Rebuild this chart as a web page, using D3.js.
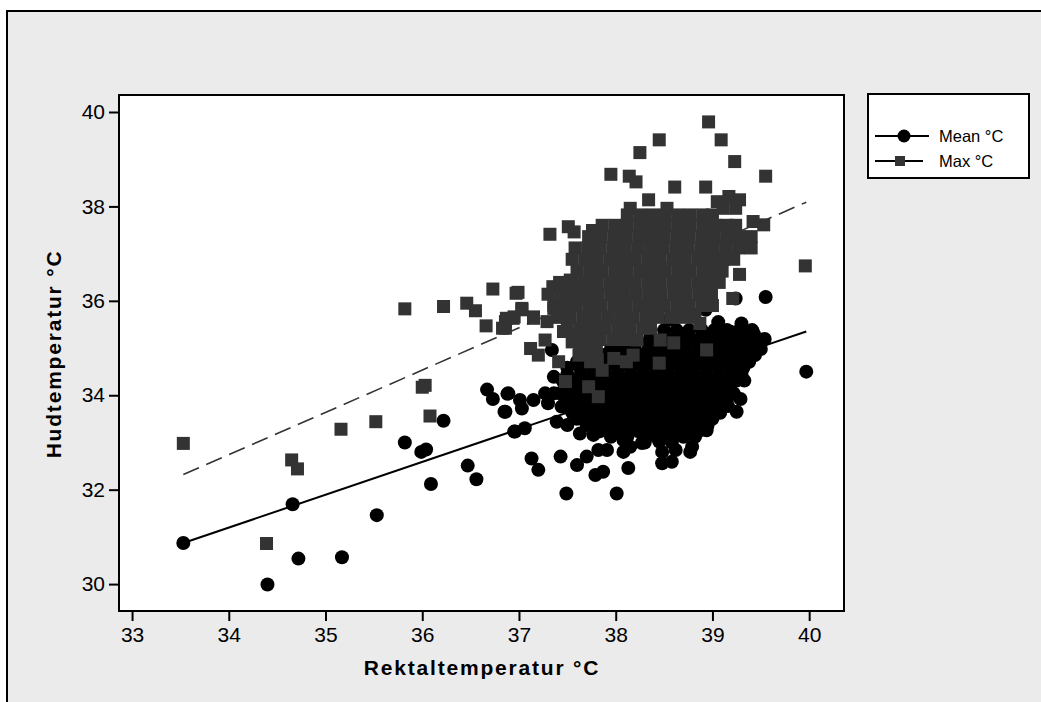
<!DOCTYPE html>
<html>
<head>
<meta charset="utf-8">
<script src="https://cdn.jsdelivr.net/npm/d3@7"></script>
<style>
  body { margin: 0; background: #fff; }
  text { font-family: 'Liberation Sans', Arial, sans-serif; }
</style>
</head>
<body>
<div id="chart"></div>
<script>
// Rektaltemperatur (x) vs Hudtemperatur (y)
const meanPoints = [
  [33.53, 30.87], [34.66, 31.69], [34.40, 29.99], [34.72, 30.54], [35.17, 30.57], [35.53, 31.46],
  [35.82, 33.00], [35.99, 32.80], [36.04, 32.85], [36.09, 32.12], [36.22, 33.46], [36.47, 32.51],
  [36.56, 32.22], [36.67, 34.12], [36.73, 33.92], [36.88, 34.03], [36.85, 33.65], [36.95, 33.23],
  [39.97, 34.50], [39.55, 36.08], [39.25, 33.65], [39.33, 34.31], [39.29, 33.92], [39.42, 35.33],
  [39.54, 35.19], [37.49, 31.92], [38.01, 31.92], [37.13, 32.66], [37.20, 32.42], [37.43, 32.70],
  [37.60, 32.52], [37.70, 32.70], [37.79, 32.31], [37.87, 32.38], [37.82, 32.84], [37.91, 32.84],
  [38.13, 32.46], [38.08, 32.80], [38.15, 32.91], [38.27, 32.99], [38.48, 32.56], [38.48, 32.80],
  [38.58, 32.59], [38.62, 32.84], [38.77, 32.80], [38.79, 32.91], [37.63, 33.19], [37.77, 33.16],
  [38.01, 33.26], [38.08, 33.05], [38.94, 33.26], [36.86, 33.65], [36.89, 34.04], [37.01, 33.90],
  [37.03, 33.72], [37.15, 33.90], [37.27, 34.04], [37.30, 33.83], [37.36, 34.04], [36.96, 33.23],
  [37.06, 33.30], [37.36, 34.39], [37.34, 34.96], [37.39, 33.44], [37.50, 33.37], [37.44, 33.76],
  [39.18, 35.35], [39.11, 36.83], [39.24, 36.05], [38.93, 35.81], [38.80, 35.70], [38.55, 35.60],
  [39.30, 35.52], [39.06, 35.55],
  [38.50, 35.38], [38.63, 35.38], [38.76, 35.38], [38.89, 35.38], [39.02, 35.38], [39.15, 35.38], [39.28, 35.38], [39.41, 35.38],
  [38.36, 35.25], [38.50, 35.25], [38.63, 35.25], [38.76, 35.25], [38.90, 35.25], [39.03, 35.25], [39.16, 35.25], [39.30, 35.25], [39.44, 35.25],
  [38.20, 35.12], [38.33, 35.12], [38.46, 35.12], [38.59, 35.12], [38.72, 35.12], [38.85, 35.12], [38.98, 35.12],
  [39.11, 35.12], [39.24, 35.12], [39.37, 35.12], [39.50, 35.12],
  [37.95, 34.98], [38.08, 34.98], [38.20, 34.98], [38.34, 34.98], [38.47, 34.98], [38.60, 34.98], [38.73, 34.98],
  [38.86, 34.98], [38.99, 34.98], [39.12, 34.98], [39.25, 34.98], [39.38, 34.98], [39.50, 34.98],
  [37.75, 34.85], [37.88, 34.85], [38.01, 34.85], [38.14, 34.85], [38.27, 34.85], [38.40, 34.85], [38.53, 34.85],
  [38.66, 34.85], [38.79, 34.85], [38.92, 34.85], [39.05, 34.85], [39.18, 34.85], [39.31, 34.85], [39.44, 34.85],
  [37.60, 34.71], [37.70, 34.71], [37.82, 34.71], [37.95, 34.71], [38.08, 34.71], [38.21, 34.71], [38.34, 34.71],
  [38.47, 34.71], [38.60, 34.71], [38.73, 34.71], [38.86, 34.71], [38.99, 34.71], [39.12, 34.71], [39.25, 34.71], [39.38, 34.71],
  [37.50, 34.58], [37.63, 34.58], [37.76, 34.58], [37.89, 34.58], [38.02, 34.58], [38.15, 34.58], [38.28, 34.58],
  [38.41, 34.58], [38.54, 34.58], [38.67, 34.58], [38.80, 34.58], [38.93, 34.58], [39.06, 34.58], [39.19, 34.58], [39.32, 34.58],
  [37.50, 34.44], [37.64, 34.44], [37.77, 34.44], [37.90, 34.44], [38.03, 34.44], [38.16, 34.44], [38.29, 34.44],
  [38.42, 34.44], [38.55, 34.44], [38.68, 34.44], [38.81, 34.44], [38.94, 34.44], [39.07, 34.44], [39.20, 34.44], [39.30, 34.44],
  [37.45, 34.31], [37.58, 34.31], [37.71, 34.31], [37.84, 34.31], [37.97, 34.31], [38.10, 34.31], [38.23, 34.31],
  [38.36, 34.31], [38.49, 34.31], [38.62, 34.31], [38.75, 34.31], [38.88, 34.31], [39.01, 34.31], [39.14, 34.31], [39.25, 34.31],
  [37.48, 34.17], [37.60, 34.17], [37.74, 34.17], [37.87, 34.17], [38.00, 34.17], [38.13, 34.17], [38.26, 34.17],
  [38.39, 34.17], [38.52, 34.17], [38.65, 34.17], [38.78, 34.17], [38.91, 34.17], [39.04, 34.17], [39.17, 34.17],
  [37.42, 34.04], [37.55, 34.04], [37.68, 34.04], [37.81, 34.04], [37.94, 34.04], [38.07, 34.04], [38.20, 34.04],
  [38.33, 34.04], [38.46, 34.04], [38.59, 34.04], [38.72, 34.04], [38.85, 34.04], [38.98, 34.04], [39.11, 34.04], [39.22, 34.04],
  [37.50, 33.90], [37.62, 33.90], [37.75, 33.90], [37.88, 33.90], [38.01, 33.90], [38.14, 33.90], [38.27, 33.90],
  [38.40, 33.90], [38.53, 33.90], [38.66, 33.90], [38.79, 33.90], [38.92, 33.90], [39.05, 33.90], [39.15, 33.90],
  [37.48, 33.77], [37.61, 33.77], [37.74, 33.77], [37.87, 33.77], [38.00, 33.77], [38.13, 33.77], [38.26, 33.77],
  [38.39, 33.77], [38.52, 33.77], [38.65, 33.77], [38.78, 33.77], [38.91, 33.77], [39.04, 33.77], [39.16, 33.77],
  [37.55, 33.63], [37.68, 33.63], [37.81, 33.63], [37.94, 33.63], [38.07, 33.63], [38.20, 33.63], [38.33, 33.63],
  [38.46, 33.63], [38.59, 33.63], [38.72, 33.63], [38.85, 33.63], [38.97, 33.63], [39.08, 33.63],
  [37.60, 33.50], [37.73, 33.50], [37.86, 33.50], [37.99, 33.50], [38.12, 33.50], [38.25, 33.50], [38.38, 33.50],
  [38.51, 33.50], [38.64, 33.50], [38.77, 33.50], [38.90, 33.50], [39.00, 33.50],
  [37.70, 33.37], [37.80, 33.37], [37.93, 33.37], [38.06, 33.37], [38.19, 33.37], [38.32, 33.37], [38.45, 33.37],
  [38.58, 33.37], [38.71, 33.37], [38.84, 33.37], [38.95, 33.37],
  [37.84, 33.24], [37.97, 33.24], [38.10, 33.24], [38.23, 33.24], [38.36, 33.24], [38.49, 33.24], [38.62, 33.24],
  [38.75, 33.24], [38.86, 33.24],
  [37.95, 33.12], [38.12, 33.12], [38.30, 33.12], [38.42, 33.12], [38.56, 33.12], [38.70, 33.12], [38.82, 33.12],
  [38.30, 33.00], [38.45, 33.02], [38.58, 33.00]
]

const maxPoints = [
  [33.53, 32.98], [34.65, 32.63], [34.71, 32.44], [34.39, 30.86], [35.16, 33.28], [35.52, 33.44],
  [35.82, 35.83], [36.00, 34.17], [36.03, 34.21], [36.08, 33.56], [36.22, 35.88], [36.46, 35.95],
  [36.55, 35.79], [36.66, 35.47], [36.73, 36.25], [36.83, 35.42], [36.86, 35.56], [36.95, 35.66],
  [36.97, 36.16], [38.96, 39.79], [38.45, 39.41], [39.09, 39.41], [38.25, 39.14], [39.23, 38.95],
  [39.55, 38.64], [37.95, 38.68], [38.14, 38.64], [38.21, 38.52], [38.61, 38.41], [38.93, 38.41],
  [38.34, 38.14], [39.05, 38.10], [39.17, 38.21], [39.28, 38.14], [39.24, 37.96], [39.11, 37.96],
  [38.15, 37.96], [38.53, 37.96], [39.42, 37.68], [39.53, 37.61], [37.32, 37.41], [37.51, 37.57],
  [37.57, 37.46], [37.76, 37.49], [39.96, 36.74], [39.28, 36.56], [36.99, 36.18], [37.03, 35.84],
  [37.15, 35.66], [37.36, 35.91], [39.21, 36.05], [37.35, 36.30], [38.94, 34.96], [38.45, 34.68],
  [38.60, 35.11], [37.82, 33.97], [37.72, 34.18], [37.48, 34.29], [37.86, 34.53], [37.81, 34.75],
  [37.74, 34.71], [37.41, 34.71], [37.12, 34.99], [37.20, 34.85], [37.27, 35.17], [36.86, 35.42],
  [36.94, 35.63], [37.03, 35.81], [37.15, 35.63], [37.36, 35.84], [38.11, 34.71], [38.18, 34.85],
  [37.98, 34.78], [38.87, 35.52], [38.92, 35.91], [38.22, 35.17], [38.46, 35.17], [37.63, 35.31],
  [37.46, 35.35], [37.55, 35.13], [37.63, 35.06], [37.62, 34.85], [37.77, 34.75], [37.53, 36.44],
  [37.65, 36.33], [36.87, 35.63], [37.29, 35.56], [37.46, 35.85], [37.60, 36.05],
  [38.12, 37.82], [38.25, 37.82], [38.38, 37.82], [38.51, 37.82], [38.64, 37.82], [38.77, 37.82], [38.90, 37.82], [39.00, 37.82],
  [37.86, 37.60], [37.99, 37.60], [38.12, 37.60], [38.25, 37.60], [38.38, 37.60], [38.51, 37.60], [38.64, 37.60],
  [38.77, 37.60], [38.90, 37.60], [39.03, 37.60], [39.15, 37.60], [39.24, 37.60],
  [37.72, 37.36], [37.85, 37.36], [37.98, 37.36], [38.11, 37.36], [38.24, 37.36], [38.37, 37.36], [38.50, 37.36],
  [38.63, 37.36], [38.76, 37.36], [38.89, 37.36], [39.02, 37.36], [39.15, 37.36], [39.28, 37.36], [39.40, 37.36],
  [37.58, 37.12], [37.71, 37.12], [37.84, 37.12], [37.97, 37.12], [38.10, 37.12], [38.23, 37.12], [38.36, 37.12],
  [38.49, 37.12], [38.62, 37.12], [38.75, 37.12], [38.88, 37.12], [39.01, 37.12], [39.14, 37.12], [39.27, 37.12], [39.40, 37.12],
  [37.55, 36.88], [37.68, 36.88], [37.81, 36.88], [37.94, 36.88], [38.07, 36.88], [38.20, 36.88], [38.33, 36.88],
  [38.46, 36.88], [38.59, 36.88], [38.72, 36.88], [38.85, 36.88], [38.98, 36.88], [39.11, 36.88], [39.22, 36.88],
  [37.60, 36.63], [37.73, 36.63], [37.86, 36.63], [37.99, 36.63], [38.12, 36.63], [38.25, 36.63], [38.38, 36.63],
  [38.51, 36.63], [38.64, 36.63], [38.77, 36.63], [38.90, 36.63], [39.03, 36.63], [39.10, 36.63],
  [37.42, 36.39], [37.55, 36.39], [37.68, 36.39], [37.81, 36.39], [37.94, 36.39], [38.07, 36.39], [38.20, 36.39],
  [38.33, 36.39], [38.46, 36.39], [38.59, 36.39], [38.72, 36.39], [38.85, 36.39], [38.98, 36.39], [39.07, 36.39],
  [37.30, 36.14], [37.43, 36.14], [37.56, 36.14], [37.69, 36.14], [37.82, 36.14], [37.95, 36.14], [38.08, 36.14],
  [38.21, 36.14], [38.34, 36.14], [38.47, 36.14], [38.60, 36.14], [38.73, 36.14], [38.86, 36.14], [38.99, 36.14],
  [37.46, 35.90], [37.59, 35.90], [37.72, 35.90], [37.85, 35.90], [37.98, 35.90], [38.11, 35.90], [38.24, 35.90],
  [38.37, 35.90], [38.50, 35.90], [38.63, 35.90], [38.76, 35.90], [38.89, 35.90], [39.00, 35.90],
  [37.40, 35.65], [37.53, 35.65], [37.66, 35.65], [37.79, 35.65], [37.92, 35.65], [38.05, 35.65], [38.18, 35.65],
  [38.31, 35.65], [38.44, 35.65], [38.57, 35.65], [38.70, 35.65], [38.82, 35.65],
  [37.50, 35.42], [37.63, 35.42], [37.76, 35.42], [37.89, 35.42], [38.02, 35.42], [38.15, 35.42], [38.28, 35.42], [38.36, 35.42],
  [37.58, 35.18], [37.71, 35.18], [37.84, 35.18], [37.97, 35.18], [38.10, 35.18],
  [37.68, 34.95], [37.80, 34.95]
]

// fitted lines, end points as drawn
const meanFit = [[33.53, 30.87], [39.97, 35.35]]
const maxFit = [[33.53, 32.32], [39.97, 38.09]]

const xTicks = [33, 34, 35, 36, 37, 38, 39, 40]
const yTicks = [30, 32, 34, 36, 38, 40]
const seriesNames = ['Mean °C', 'Max °C']

const width = 1041
const height = 702

const svg = d3.select('#chart').append('svg')
  .attr('width', width)
  .attr('height', height)

// grey page frame, runs off the right and bottom edges
svg.append('rect')
  .attr('x', 7).attr('y', 11)
  .attr('width', width).attr('height', height)
  .attr('fill', '#ebebeb')
  .attr('stroke', '#000')
  .attr('stroke-width', 2)

const x = d3.scaleLinear().domain([32.865, 40.36]).range([119, 844])
const y = d3.scaleLinear().domain([29.43, 40.36]).range([611, 95])

svg.append('rect')
  .attr('x', 119).attr('y', 95)
  .attr('width', 725).attr('height', 516)
  .attr('fill', '#fff')

const line = d3.line().x(d => x(d[0])).y(d => y(d[1]))

svg.append('path')
  .datum(maxFit)
  .attr('d', line)
  .attr('fill', 'none')
  .attr('stroke', '#333')
  .attr('stroke-width', 1.6)
  .attr('stroke-dasharray', '17,8')

svg.append('path')
  .datum(meanFit)
  .attr('d', line)
  .attr('fill', 'none')
  .attr('stroke', '#000')
  .attr('stroke-width', 2)

svg.append('g')
  .selectAll('circle')
  .data(meanPoints)
  .join('circle')
  .attr('cx', d => x(d[0]))
  .attr('cy', d => y(d[1]))
  .attr('r', 7)
  .attr('fill', '#000')

svg.append('g')
  .selectAll('rect')
  .data(maxPoints)
  .join('rect')
  .attr('x', d => x(d[0]) - 6.5)
  .attr('y', d => y(d[1]) - 6.5)
  .attr('width', 13)
  .attr('height', 13)
  .attr('fill', '#333')

// plot border on top of the marks
svg.append('rect')
  .attr('x', 119).attr('y', 95)
  .attr('width', 725).attr('height', 516)
  .attr('fill', 'none')
  .attr('stroke', '#000')
  .attr('stroke-width', 2)

function styleAxis(g) {
  g.select('.domain').remove()
  g.selectAll('.tick line').attr('stroke', '#000').attr('stroke-width', 2)
  g.selectAll('.tick text')
    .attr('fill', '#000')
    .style('font-size', '21px')
    .style('font-family', "'Liberation Sans', Arial, sans-serif")
}

svg.append('g')
  .attr('transform', 'translate(0,612)')
  .call(d3.axisBottom(x).tickValues(xTicks).tickSize(9).tickPadding(6).tickFormat(d3.format('d')))
  .call(styleAxis)

svg.append('g')
  .attr('transform', 'translate(118,0)')
  .call(d3.axisLeft(y).tickValues(yTicks).tickSize(9).tickPadding(4).tickFormat(d3.format('d')))
  .call(styleAxis)

svg.append('text')
  .attr('x', 482)
  .attr('y', 675)
  .attr('text-anchor', 'middle')
  .style('font-size', '21px')
  .style('font-weight', 'bold')
  .style('letter-spacing', '1.8px')
  .text('Rektaltemperatur °C')

svg.append('text')
  .attr('transform', 'translate(61,354) rotate(-90)')
  .attr('text-anchor', 'middle')
  .style('font-size', '21px')
  .style('font-weight', 'bold')
  .style('letter-spacing', '1.8px')
  .text('Hudtemperatur °C')

// legend
const legend = svg.append('g')
legend.append('rect')
  .attr('x', 868).attr('y', 94)
  .attr('width', 161).attr('height', 84)
  .attr('fill', '#fff')
  .attr('stroke', '#000')
  .attr('stroke-width', 2)

const rows = legend.selectAll('g.row')
  .data(seriesNames)
  .join('g')
  .attr('class', 'row')
  .attr('transform', (d, i) => `translate(0,${136 + i * 25})`)

rows.append('line')
  .attr('x1', 875)
  .attr('x2', (d, i) => (i === 0 ? 929 : 923))
  .attr('stroke', '#000')
  .attr('stroke-width', 2)

rows.filter((d, i) => i === 0).append('circle')
  .attr('cx', 904).attr('r', 6.5)
  .attr('fill', '#000')

rows.filter((d, i) => i === 1).append('rect')
  .attr('x', 895).attr('y', -5)
  .attr('width', 10).attr('height', 10)
  .attr('fill', '#333')

rows.append('text')
  .attr('x', 939)
  .attr('y', 6)
  .style('font-size', '16.5px')
  .text(d => d)
</script>
</body>
</html>
